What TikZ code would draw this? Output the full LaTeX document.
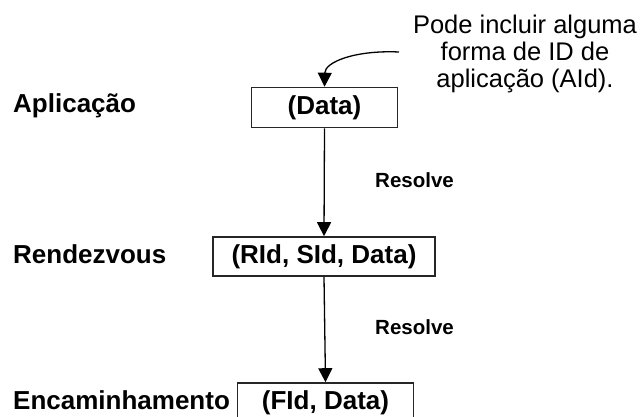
\documentclass[tikz,border=0pt]{standalone}
\usepackage{fontspec}
\setmainfont{Liberation Sans}
\usetikzlibrary{arrows.meta}
\begin{document}
\begin{tikzpicture}[x=1pt,y=1pt,
  box/.style={draw=black!85, line width=1.6pt, rectangle, inner sep=0pt,
    font=\fontsize{26}{30}\selectfont\bfseries},
  layer/.style={anchor=base west, inner sep=0pt,
    font=\fontsize{26}{30}\selectfont\bfseries},
  edgelabel/.style={anchor=base west, inner sep=0pt,
    font=\fontsize{20.5}{24}\selectfont\bfseries},
  note/.style={align=center, inner sep=0pt,
    font=\fontsize{25.5}{27}\selectfont},
  flow/.style={line width=1.3pt, -{Triangle[width=14pt,length=14pt]}}
]
\useasboundingbox (0,0) rectangle (642,-417);
\clip (0,0) rectangle (642,-417);

% layer names
\node[layer] (app) at (13,-113) {Aplicação};
\node[layer] (rdv) at (13,-263) {Rendezvous};
\node[layer] (enc) at (13,-409) {Encaminhamento};

% packet formats at each layer
\node[box, minimum width=146pt, minimum height=40pt] (data) at (324.5,-107.5) {(Data)};
\node[box, minimum width=222pt, minimum height=39pt] (rsd) at (324,-256.5) {(RId, SId, Data)};
\node[box, minimum width=176pt, minimum height=40pt] (fd) at (325.5,-403) {(FId, Data)};

% resolution steps
\draw[flow] (data.south) -- (rsd.north);
\draw[flow] (rsd.south) -- (fd.north);
\node[edgelabel] (res1) at (375,-187) {Resolve};
\node[edgelabel] (res2) at (375,-334) {Resolve};

% annotation
\node[note] (note) at (525,-54) {Pode incluir alguma\\forma de ID de\\aplicação (AId).};
\coordinate (nstart) at (399,-52);
\draw[flow] (nstart) .. controls (355,-50) and (325,-62) .. (data.north);
\end{tikzpicture}
\end{document}
